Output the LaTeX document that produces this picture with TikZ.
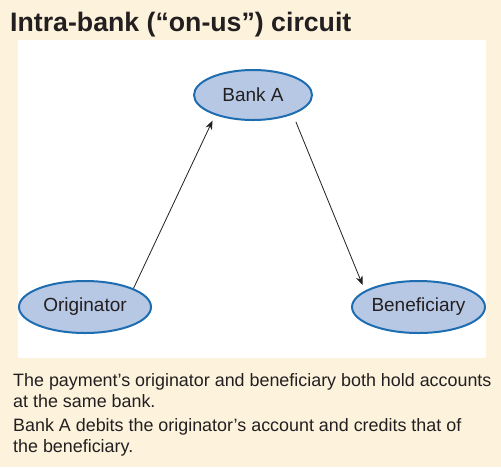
\documentclass[tikz,border=0pt]{standalone}
\usepackage{fontspec}
\setmainfont{Liberation Sans}
\usetikzlibrary{shapes.geometric,arrows.meta}

\definecolor{cream}{HTML}{FDF3DD}
\definecolor{bankfill}{HTML}{B7C8E5}
\definecolor{bankline}{HTML}{1D6DB0}
\definecolor{inkgray}{HTML}{231F20}

\tikzset{
  party/.style={ellipse, draw=bankline, fill=bankfill, line width=2pt,
    minimum width=132pt, minimum height=52pt, inner sep=0pt,
    text=inkgray, font=\fontsize{19}{21}\selectfont},
  flow/.style={-{Stealth[length=9pt,width=7pt]}, line width=0.8pt, inkgray},
  note/.style={anchor=base west, inner sep=0pt, align=left, text=inkgray,
    font=\fontsize{17.9}{20.5}\selectfont}
}

\begin{document}
\begin{tikzpicture}[x=1pt,y=-1pt]
            % Background and panel
            \fill[cream] (0,0) rectangle (501,467);
            \useasboundingbox (0,0) rectangle (501,467);
            \fill[white] (18,40) rectangle (486,358);

            % Title
            \node[anchor=base west, inner sep=0pt, text=inkgray,
              font=\bfseries\fontsize{26.7}{28}\selectfont] (title) at (10,31)
              {Intra-bank (“on-us”) circuit};

            % Banks and customers
            \node[party, minimum width=118pt, minimum height=50pt] (bankA) at (253,95) {Bank A};
            \node[party] (orig) at (85,307) {Originator};
            \node[party] (benef) at (418.5,307) {Beneficiary};

            % Payment flow
            \draw[flow, shorten >=6pt] (orig.21) -- (bankA.208);
            \draw[flow, shorten <=8pt, shorten >=6pt] (bankA.334) -- (benef.163);

            % Caption
            \node[note] (noteA) at (13,407)
              {The payment’s originator and beneficiary both hold accounts\\
               at the same bank.};
            \node[note] (noteB) at (13,452)
              {Bank A debits the originator’s account and credits that of\\
               the beneficiary.};
        \end{tikzpicture}
\end{document}
